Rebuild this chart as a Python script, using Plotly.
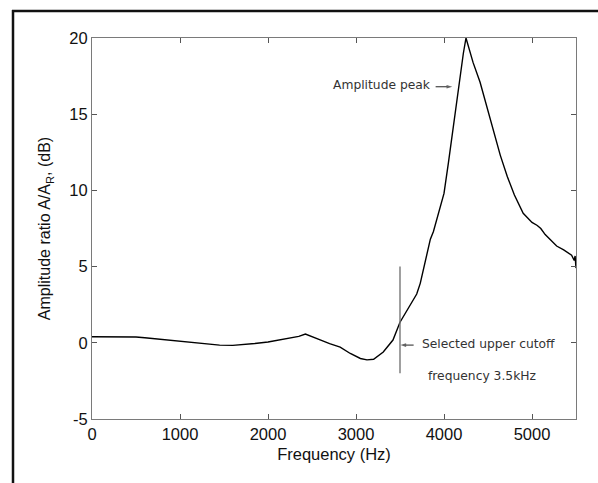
import plotly.graph_objects as go

# Frequency response
freq_hz = [0, 300, 500, 600, 800, 1000, 1230, 1450, 1600, 1700, 1850, 2000, 2150, 2250,
           2350, 2425, 2500, 2600, 2700, 2820, 2935, 3050, 3125, 3200, 3310, 3420, 3500,
           3600, 3690, 3730, 3800, 3845, 3880, 3925, 3960, 4000, 4050, 4110, 4150, 4185,
           4220, 4250, 4280, 4330, 4410, 4520, 4600, 4640, 4720, 4800, 4900, 4950, 5000,
           5060, 5100, 5150, 5200, 5280, 5360, 5400, 5450, 5480, 5490, 5500]
ampl_db = [0.40, 0.40, 0.38, 0.33, 0.22, 0.10, 0.00, -0.15, -0.17, -0.14, -0.05, 0.05, 0.22, 0.33,
           0.42, 0.57, 0.38, 0.18, -0.05, -0.28, -0.70, -1.03, -1.12, -1.08, -0.60, 0.18, 1.35,
           2.3, 3.2, 3.9, 5.6, 6.8, 7.3, 8.3, 8.9, 9.8, 11.8, 14.4, 16.0, 17.8,
           19.0, 20.0, 19.4, 18.4, 17.1, 14.8, 13.3, 12.3, 10.9, 9.7, 8.5, 8.2, 7.9,
           7.7, 7.5, 7.1, 6.8, 6.35, 6.1, 5.95, 5.75, 5.4, 5.7, 4.9]

cutoff_x = [3500, 3500]
cutoff_y = [-2, 5]

# annotation arrows (tail, head)
peak_arrow_x = [3905, 4094]
peak_arrow_y = [16.8, 16.8]
cut_arrow_x = [3655, 3505]
cut_arrow_y = [-0.15, -0.15]

x_ticks = [0, 1000, 2000, 3000, 4000, 5000]
y_ticks = [-5, 0, 5, 10, 15, 20]

FONT = "Liberation Sans, Arial, sans-serif"
ANN_FONT = dict(family="DejaVu Sans, sans-serif", size=12.3, color="#333333")

fig = go.Figure()
fig.add_trace(go.Scatter(x=freq_hz, y=ampl_db, mode="lines",
                         line=dict(color="black", width=1.4), showlegend=False))
fig.add_trace(go.Scatter(x=cutoff_x, y=cutoff_y, mode="lines",
                         line=dict(color="#777777", width=1.4), showlegend=False))
for ax_, ay_ in ((peak_arrow_x, peak_arrow_y), (cut_arrow_x, cut_arrow_y)):
    fig.add_trace(go.Scatter(x=ax_, y=ay_, mode="lines+markers",
                             line=dict(color="#222222", width=1),
                             marker=dict(symbol=["line-ns", "arrow"], size=[0, 6],
                                         angleref="previous", color="#222222",
                                         line=dict(width=0)),
                             showlegend=False, hoverinfo="skip"))

fig.add_annotation(x=3870, y=16.9, xref="x", yref="y", text="Amplitude peak",
                   showarrow=False, xanchor="right", yanchor="middle", font=ANN_FONT)
fig.add_annotation(x=3725, y=-0.1, xref="x", yref="y", text="Selected upper cutoff",
                   showarrow=False, xanchor="left", yanchor="middle", font=ANN_FONT)
fig.add_annotation(x=3800, y=-2.2, xref="x", yref="y", text="frequency 3.5kHz",
                   showarrow=False, xanchor="left", yanchor="middle", font=ANN_FONT)

# outer frame (left and top edges visible in reference)
L, R, T, B = 92, 22, 38, 64
W, H = 598, 483
pw, ph = W - L - R, H - T - B
def px2paper_x(px):
    return (px - L) / pw
def px2paper_y(py):
    return (H - B - py) / ph
fig.add_shape(type="line", xref="paper", yref="paper",
              x0=px2paper_x(13), x1=px2paper_x(13), y0=px2paper_y(10), y1=px2paper_y(483),
              line=dict(color="#111111", width=2.5))
fig.add_shape(type="line", xref="paper", yref="paper",
              x0=px2paper_x(12), x1=px2paper_x(598), y0=px2paper_y(11), y1=px2paper_y(11),
              line=dict(color="#111111", width=2.5))

axis_common = dict(showgrid=False, zeroline=False, showline=True, linecolor="#7a7a7a",
                   linewidth=1, mirror="ticks", ticks="inside", ticklen=5,
                   tickcolor="#555555", tickwidth=1,
                   tickfont=dict(family=FONT, size=16.5, color="#111111"))

fig.update_xaxes(range=[0, 5500], tickvals=x_ticks, ticktext=[str(v) for v in x_ticks],
                 title=dict(text="Frequency (Hz)", standoff=6,
                            font=dict(family=FONT, size=16.5, color="#111111")),
                 **axis_common)
fig.update_yaxes(range=[-5, 20], tickvals=y_ticks, ticktext=[str(v) for v in y_ticks],
                 title=dict(text="Amplitude ratio A/A<sub>R</sub>, (dB)", standoff=14,
                            font=dict(family=FONT, size=16, color="#111111")),
                 **axis_common)

fig.update_layout(width=W, height=H, margin=dict(l=L, r=R, t=T, b=B, pad=0),
                  paper_bgcolor="white", plot_bgcolor="white")

fig.write_html("out.html")
